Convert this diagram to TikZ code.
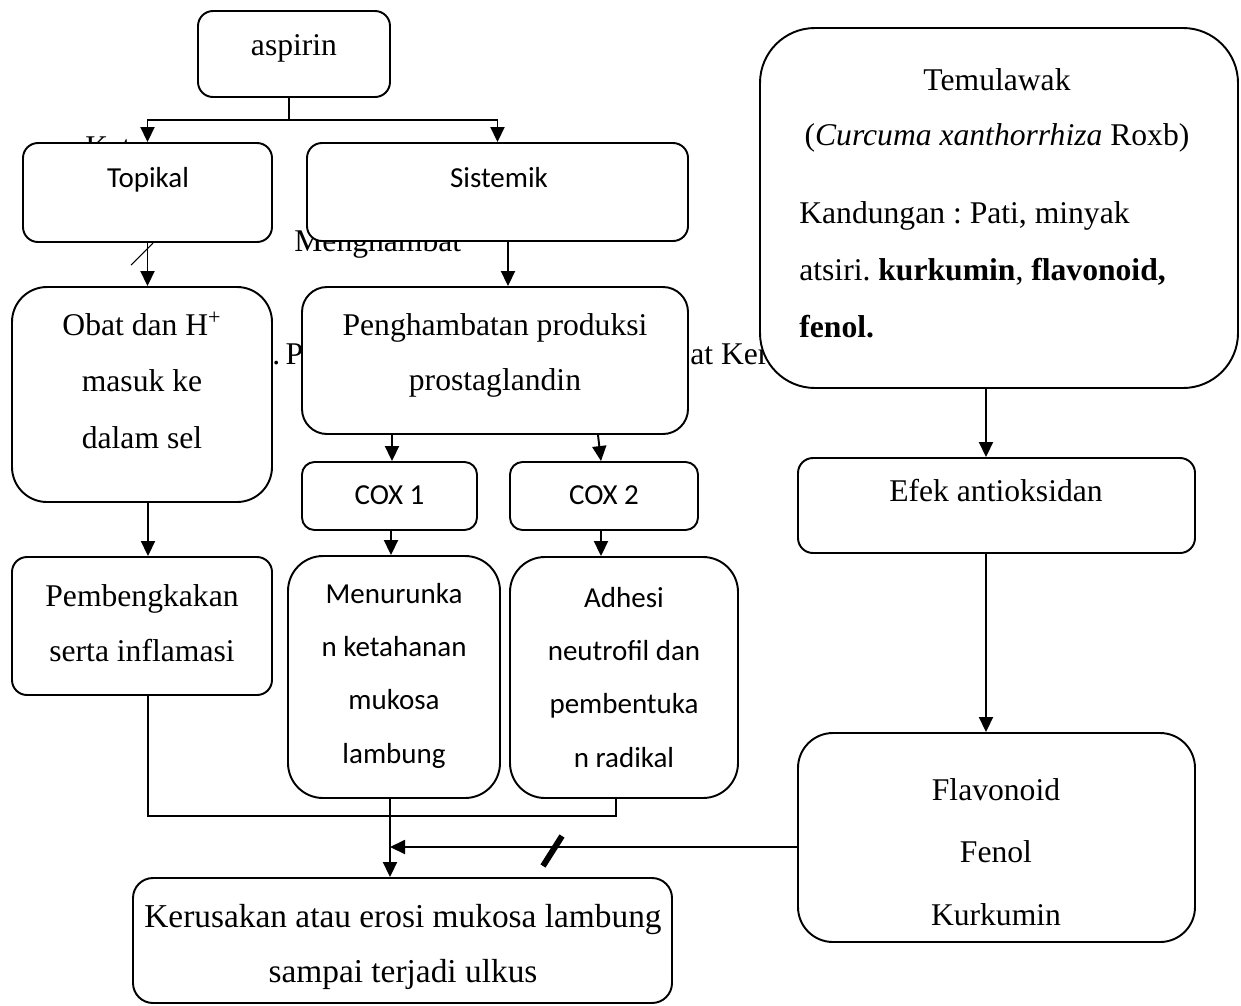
\documentclass[tikz,border=0pt]{standalone}
\usepackage{fontspec}
\setmainfont{Liberation Serif}
\newfontfamily\calibri{Carlito}
\usetikzlibrary{arrows.meta}
\usetikzlibrary{calc}
\usetikzlibrary{fit}
\frenchspacing

\tikzset{
  box/.style={draw, fill=white, line width=1.1pt, inner sep=0pt, rounded corners=#1},
  box/.default=0.3cm,
  serif/.style={font=\fontsize{18}{31.2}\selectfont, inner sep=0pt, align=center},
  sans/.style={font=\calibri\fontsize{16.5}{30.2}\selectfont, inner sep=0pt, align=center},
  arr/.style={-{Triangle[length=0.3cm,width=0.28cm]}, line width=1.1pt},
  link/.style={line width=1.1pt},
}

\begin{document}
\begin{tikzpicture}[x=0.02cm, y=-0.02cm]
\useasboundingbox (0,0) rectangle (1241,1005);
% tulisan yang tertutup kotak
\node[serif, anchor=base west] (ket) at (85,157) {Ket};
\node[serif, anchor=base west] (hambat) at (294,251) {Menghambat};
\node[serif, anchor=base west] (titikp) at (272,364) {.\,P};
\node[serif, anchor=base west] (ker) at (690,364) {at Ker};

% kotak
\node[box, fit={(198,11) (390,97)}] (aspirin) {};
\node[box, fit={(23,143) (272,242)}] (topikal) {};
\node[box, fit={(307,143) (688,241)}] (sistemik) {};
\node[box=0.7cm, fit={(12,287) (272,502)}] (obat) {};
\node[box=0.5cm, fit={(302,287) (688,434)}] (pengh) {};
\node[box=0.25cm, fit={(302,462) (477,530)}] (cox1) {};
\node[box=0.25cm, fit={(510,462) (698,530)}] (cox2) {};
\node[box, fit={(12,557) (272,695)}] (bengkak) {};
\node[box=0.7cm, fit={(288,556) (500,798)}] (turun) {};
\node[box=0.7cm, fit={(510,557) (738,798)}] (adhesi) {};
\node[box=0.4cm, fit={(133,878) (672,1003)}] (rusak) {};
\node[box=1.1cm, fit={(760,28) (1238,388)}] (temu) {};
\node[box, fit={(798,458) (1195,553)}] (efek) {};
\node[box=0.7cm, fit={(798,733) (1195,942)}] (flavo) {};

% isi kotak (anchor base = baris terakhir)
\node[serif, anchor=base] (aspirin-t) at (294,55) {aspirin};
\node[sans, anchor=base] (topikal-t) at (148,187) {Topikal};
\node[sans, anchor=base] (sistemik-t) at (499,187) {Sistemik};
\node[serif, anchor=base, font=\fontsize{18}{32}\selectfont] (obat-t) at (142,448) {Obat dan H\textsuperscript{+}\\masuk ke\\dalam sel};
\node[serif, anchor=base] (pengh-t) at (495,390) {Penghambatan produksi\\prostaglandin};
\node[sans, anchor=base] (cox1-t) at (389.5,504) {COX 1};
\node[sans, anchor=base] (cox2-t) at (604,504) {COX 2};
\node[serif, anchor=base] (bengkak-t) at (142,661) {Pembengkakan\\serta inflamasi};
\node[sans, anchor=base] (turun-t) at (394,763) {Menurunka\\n ketahanan\\mukosa\\lambung};
\node[sans, anchor=base] (adhesi-t) at (624,767) {Adhesi\\neutrofil dan\\pembentuka\\n radikal};
\node[serif, anchor=base, font=\fontsize{19}{31}\selectfont] (rusak-t) at (403,982) {Kerusakan atau erosi mukosa lambung\\sampai terjadi ulkus};
\node[serif, anchor=base] (temu-t) at (997,145) {Temulawak\\(\textit{Curcuma xanthorrhiza} Roxb)};
\node[serif, anchor=base west, align=left, font=\fontsize{18}{32.3}\selectfont] (kandung-t) at (799,337)
  {Kandungan : Pati, minyak\\atsiri. \textbf{kurkumin}, \textbf{flavonoid,}\\\textbf{fenol.}};
\node[serif, anchor=base] (efek-t) at (996,501) {Efek antioksidan};
\node[serif, anchor=base, font=\fontsize{18}{35.4}\selectfont] (flavo-t) at (996,925) {Flavonoid\\Fenol\\Kurkumin};

% panah
\coordinate (cabang) at (289,120);
\draw[link] (aspirin.south -| cabang) -- (cabang);
\draw[arr] (cabang) -| (topikal.north);
\draw[arr] (cabang) -| (sistemik.north);
\draw[arr] (topikal.south) -- (topikal.south |- obat.north);
\draw[line width=0.6pt] (131,265) -- (153,243);
\draw[arr] (508,0 |- sistemik.south) -- (508,0 |- pengh.north);
\draw[arr] (392,0 |- pengh.south) -- (392,0 |- cox1.north);
\draw[arr] (598,0 |- pengh.south) -- (601,0 |- cox2.north);
\draw[arr] (391,0 |- cox1.south) -- (391,0 |- turun.north);
\draw[arr] (601,0 |- cox2.south) -- (601,0 |- adhesi.north);
\draw[arr] (148,0 |- obat.south) -- (148,0 |- bengkak.north);
\draw[link] (148,0 |- bengkak.south) |- (616,816) -- (616,0 |- adhesi.south);
\draw[arr] (390,0 |- turun.south) -- (390,0 |- rusak.north);
\draw[arr] (986,0 |- temu.south) -- (986,0 |- efek.north);
\draw[arr] (986,0 |- efek.south) -- (986,0 |- flavo.north);
\coordinate (hambatan) at (390,847);
\draw[arr] (flavo.west |- hambatan) -- (hambatan);
\draw[line width=3.4pt] (543,866) -- (562,836);
\end{tikzpicture}
\end{document}
